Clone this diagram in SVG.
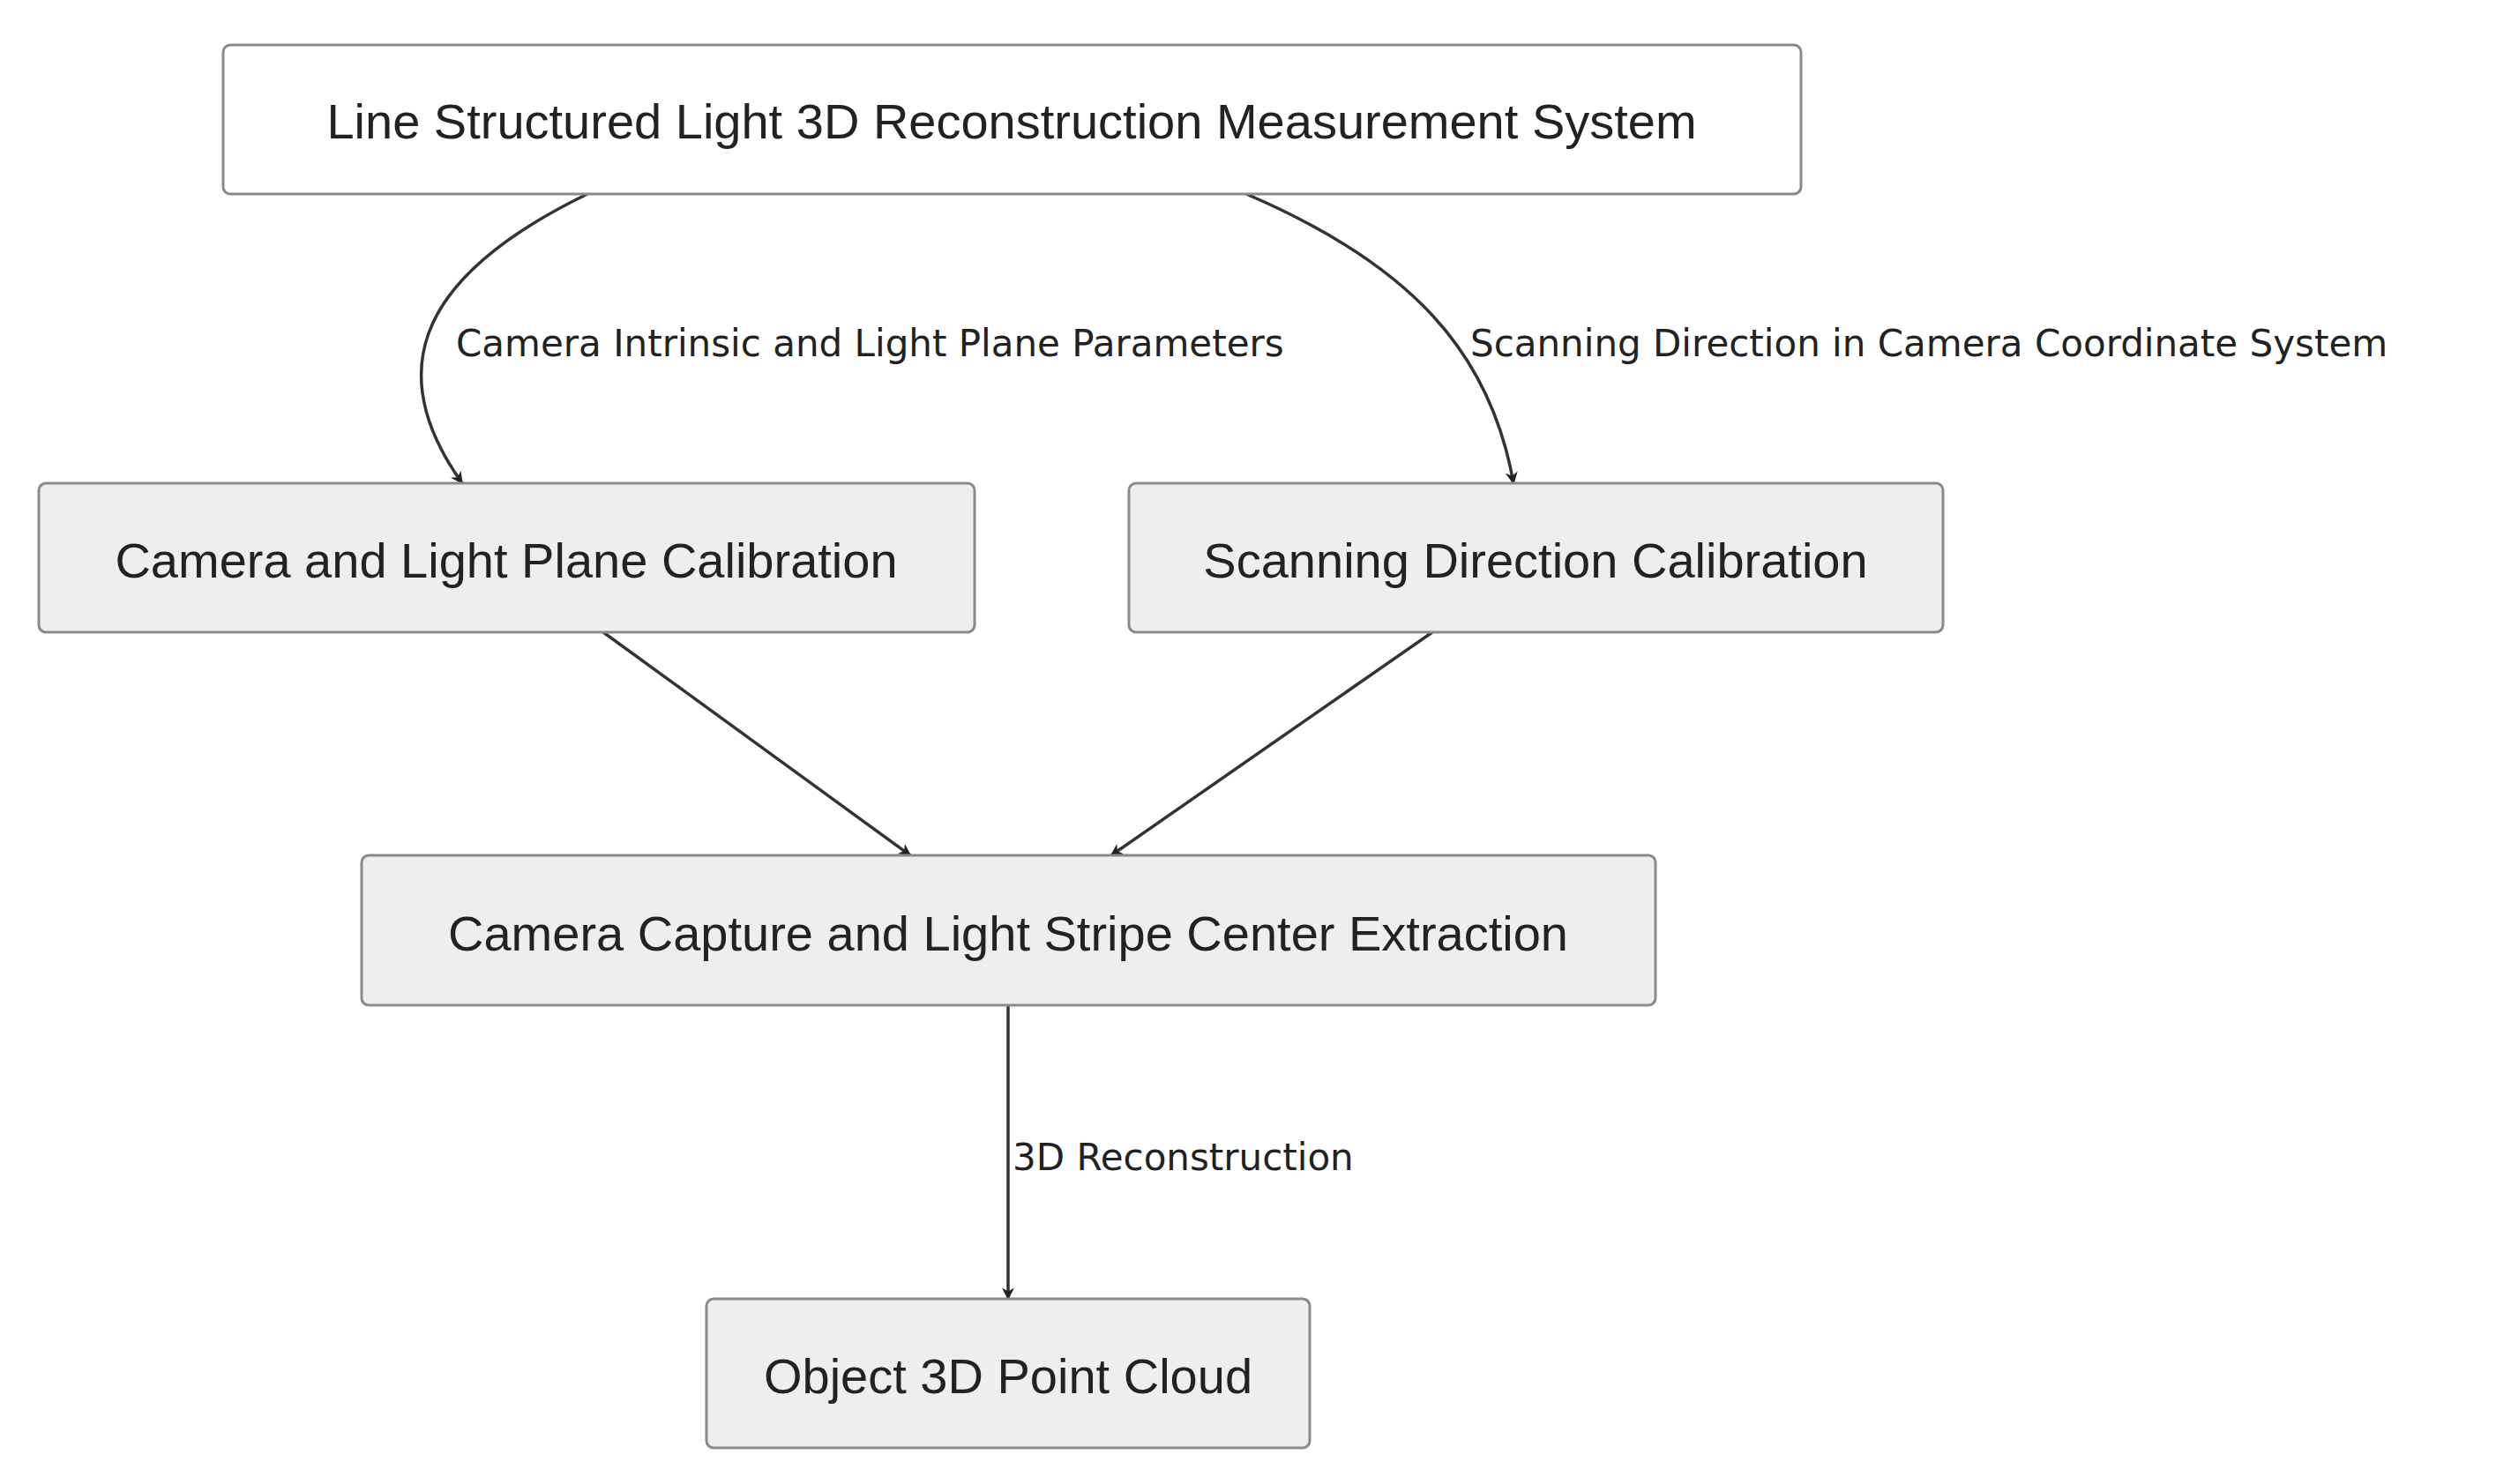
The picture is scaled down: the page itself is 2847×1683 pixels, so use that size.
<svg xmlns="http://www.w3.org/2000/svg" width="2847" height="1683" viewBox="0 0 2847 1683">
<style>
.box{fill:#eeeeee;stroke:#8a8a8a;stroke-width:3}
.t{font-family:"Liberation Sans",Arial,sans-serif;font-size:56px;fill:#222;text-anchor:middle}
.l{font-family:"DejaVu Sans",sans-serif;font-size:42px;fill:#222}
.c{fill:none;stroke:#333;stroke-width:3.5}
</style>
<defs><marker id="a" viewBox="0 0 20 20" refX="18" refY="10" markerWidth="14" markerHeight="14" markerUnits="userSpaceOnUse" orient="auto"><path d="M0,0 L20,10 L0,20 L6,10 Z" fill="#222"/></marker></defs>
<rect width="2847" height="1683" fill="#fff"/>
<g id="connectors">
<path class="c" d="M666,220 C460,320 440,430 524,548" marker-end="url(#a)" style="marker-end:url(#a)"/>
<path class="c" d="M1413,220 C1600,300 1690,400 1716,548" style="marker-end:url(#a)"/>
<path class="c" d="M684,717 L1032,970" style="marker-end:url(#a)"/>
<path class="c" d="M1624,717 L1260,970" style="marker-end:url(#a)"/>
<path class="c" d="M1143,1140 L1143,1473" style="marker-end:url(#a)"/>
<text class="l" x="517" y="404">Camera Intrinsic and Light Plane Parameters</text>
<text class="l" x="1667" y="404">Scanning Direction in Camera Coordinate System</text>
<text class="l" x="1148" y="1327">3D Reconstruction</text>
</g>
<g id="top"><rect class="box" style="fill:#fff" x="253" y="51" width="1789" height="169" rx="8"/><text class="t" x="1147" y="157">Line Structured Light 3D Reconstruction Measurement System</text></g>
<g id="cam"><rect class="box" x="44" y="548" width="1061" height="169" rx="8"/><text class="t" x="574" y="655">Camera and Light Plane Calibration</text></g>
<g id="scan"><rect class="box" x="1280" y="548" width="923" height="169" rx="8"/><text class="t" x="1741" y="655">Scanning Direction Calibration</text></g>
<g id="capture"><rect class="box" x="410" y="970" width="1467" height="170" rx="8"/><text class="t" x="1143" y="1078">Camera Capture and Light Stripe Center Extraction</text></g>
<g id="object"><rect class="box" x="801" y="1473" width="684" height="169" rx="8"/><text class="t" x="1143" y="1580">Object 3D Point Cloud</text></g>
</svg>
